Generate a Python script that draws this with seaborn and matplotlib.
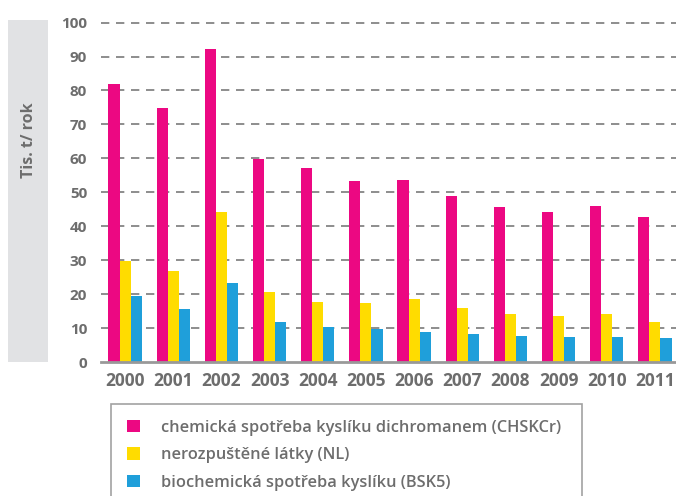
import numpy as np
import pandas as pd
import matplotlib
matplotlib.use("Agg")
import matplotlib.pyplot as plt
import seaborn as sns
from matplotlib.patches import Rectangle

years = ["2000", "2001", "2002", "2003", "2004", "2005",
         "2006", "2007", "2008", "2009", "2010", "2011"]
chskcr = [81.9, 74.8, 92.3, 59.8, 57.3, 53.2, 53.7, 49.0, 45.6, 44.3, 46.0, 42.8]
nl = [29.8, 26.8, 44.3, 20.6, 17.7, 17.3, 18.6, 16.0, 14.0, 13.6, 14.0, 11.8]
bsk5 = [19.5, 15.6, 23.2, 11.9, 10.2, 9.8, 8.9, 8.2, 7.7, 7.4, 7.4, 7.0]

series_names = ["chemická spotřeba kyslíku dichromanem (CHSKCr)",
                "nerozpuštěné látky (NL)",
                "biochemická spotřeba kyslíku (BSK5)"]
colors = ["#ec0882", "#ffdc00", "#1f9fda"]

df = pd.DataFrame({
    "rok": years * 3,
    "hodnota": chskcr + nl + bsk5,
    "ukazatel": [series_names[0]] * 12 + [series_names[1]] * 12 + [series_names[2]] * 12,
})

sns.set_style("white")
plt.rcParams["font.family"] = ["Open Sans", "DejaVu Sans"]

text_col = "#6d6d6d"

fig = plt.figure(figsize=(6.76, 4.96), dpi=100)
W, H = 676, 496
ax = fig.add_axes([101 / W, 1 - 362 / H, (679 - 101) / W, (362 - 22.6) / H])

# grey band behind the y label
fig.patches.append(Rectangle((8 / W, 1 - 362 / H), 40 / W, (362 - 20) / H,
                             transform=fig.transFigure, facecolor="#e1e2e4",
                             edgecolor="none", zorder=0))
fig.text(29 / W, 1 - 140 / H, "Tis. t/ rok", rotation=90, ha="center", va="center",
         fontsize=11.5, fontweight="bold", color=text_col)

sns.barplot(data=df, x="rok", y="hodnota", hue="ukazatel", palette=colors,
            width=0.69, saturation=1, linewidth=0, ax=ax, legend=True, zorder=3)

ax.set_ylim(0, 100)
ax.set_yticks(range(0, 101, 10))
ax.set_xlim(-0.5, 11.5)
ax.set_xlabel("")
ax.set_ylabel("")

for y in range(10, 101, 10):
    ax.axhline(y, color="#7a7a7a", lw=1.2, dashes=(5, 4), zorder=1, clip_on=False)

for s in ["top", "right", "left"]:
    ax.spines[s].set_visible(False)
ax.spines["bottom"].set_color("#999999")
ax.spines["bottom"].set_linewidth(2)
ax.spines["bottom"].set_zorder(4)

ax.tick_params(axis="both", length=0, labelcolor=text_col)
ax.tick_params(axis="y", pad=10, labelsize=11)
ax.tick_params(axis="x", pad=7, labelsize=12.5)
for lbl in ax.get_xticklabels() + ax.get_yticklabels():
    lbl.set_fontweight("bold")

handles, labels = ax.get_legend_handles_labels()
ax.get_legend().remove()
leg = fig.legend(handles, labels, loc="upper left",
                 bbox_to_anchor=(111 / W, 0, 471 / W, 1 - 404 / H), mode="expand",
                 frameon=True, fancybox=False, fontsize=11.8,
                 handlelength=0.8, handleheight=0.8, handletextpad=1.3,
                 labelspacing=0.7, borderpad=0.95, borderaxespad=0)
leg.get_frame().set_edgecolor("#8a8a8a")
leg.get_frame().set_linewidth(1.2)
for t in leg.get_texts():
    t.set_color(text_col)
    t.set_fontweight("semibold")

fig.savefig("out.png", dpi=100)
